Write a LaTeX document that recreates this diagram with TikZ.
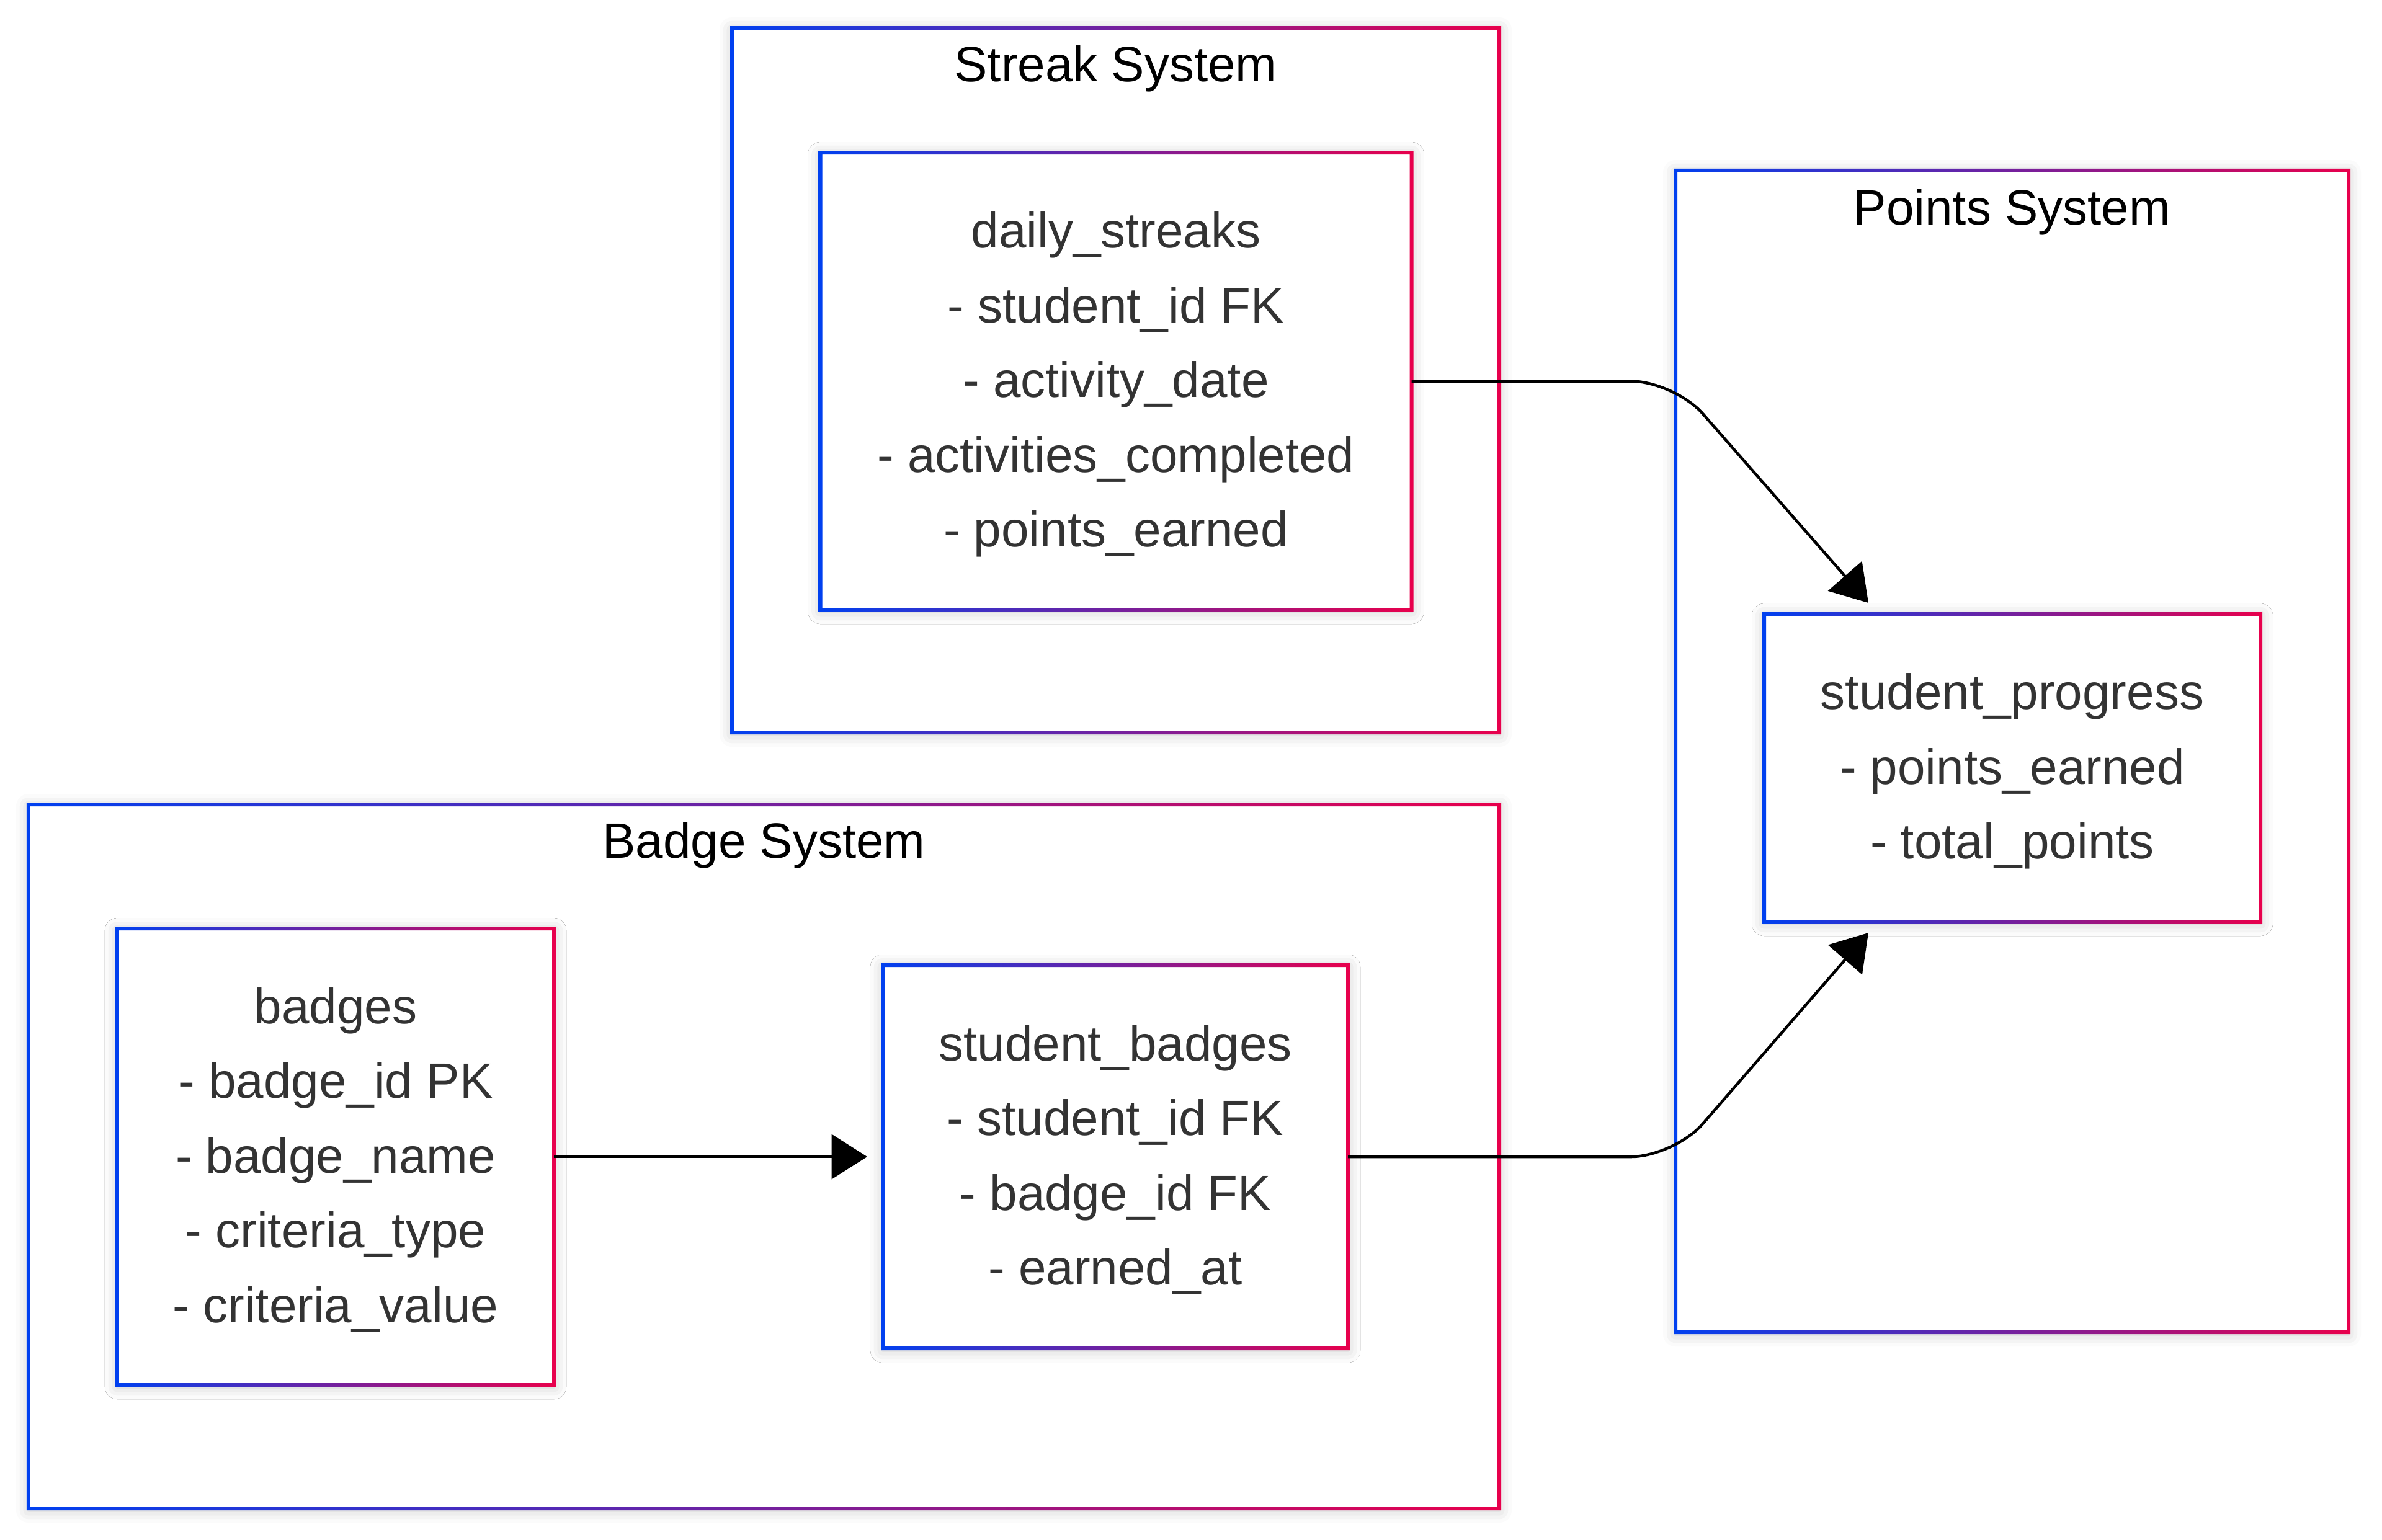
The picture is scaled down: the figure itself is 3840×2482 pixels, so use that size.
\documentclass[tikz,border=0pt]{standalone}
\usepackage{fontspec}
\setmainfont{Liberation Sans}
\usetikzlibrary{arrows.meta}
\usetikzlibrary{shadows.blur}
\definecolor{gradblue}{RGB}{0,64,240}
\definecolor{gradred}{RGB}{232,0,76}
\definecolor{textgray}{HTML}{333333}
\newcommand{\gradframe}[1]{%
  \shade[left color=gradblue,right color=gradred,even odd rule]
    ([shift={(-3,-3)}]#1.north west) rectangle ([shift={(3,3)}]#1.south east)
    ([shift={(3,3)}]#1.north west) rectangle ([shift={(-3,-3)}]#1.south east);}

\begin{document}
\begin{tikzpicture}[x=0.2pt,y=-0.2pt,>={Triangle[length=11.5pt,width=14.4pt]},
  cluster/.style={inner sep=0pt,outer sep=0pt,fill=white,
    blur shadow={shadow xshift=0pt,shadow yshift=-0.6pt,shadow blur radius=4pt,shadow opacity=22}},
  entity/.style={cluster,align=center,text=textgray,text depth=1.2pt,
    font=\fontsize{16pt}{24.1pt}\selectfont},
  clustertitle/.style={anchor=base,font=\fontsize{16pt}{19pt}\selectfont},
  link/.style={black,line width=0.9pt,->,rounded corners=14pt}]
\useasboundingbox (0,0) rectangle (3840,2482);
%% subgraphs
\node (streak) at (1798.5,613) [cluster,minimum width=247.4pt,minimum height=227.2pt] {};
\node (points) at (3243.5,1211.5) [cluster,minimum width=217pt,minimum height=374.6pt] {};
\node (badge) at (1231.5,1864.5) [cluster,minimum width=474.2pt,minimum height=227pt] {};
\gradframe{streak}
\gradframe{points}
\gradframe{badge}
\node (streak_title) at (1798.5,131) [clustertitle] {Streak System};
\node (points_title) at (3243.5,362) [clustertitle] {Points System};
\node (badge_title) at (1231.5,1383) [clustertitle] {Badge System};
%% tables
\node (daily) at (1799,614.5) [entity,minimum width=190.6pt,minimum height=147.4pt]
  {daily\_streaks\\- student\_id FK\\- activity\_date\\- activities\_completed\\- points\_earned};
\node (progress) at (3244,1238) [entity,minimum width=160pt,minimum height=99.2pt]
  {student\_progress\\- points\_earned\\- total\_points};
\node (badges) at (541,1865) [entity,minimum width=140.8pt,minimum height=147.2pt]
  {badges\\- badge\_id PK\\- badge\_name\\- criteria\_type\\- criteria\_value};
\node (sbadges) at (1798,1865) [entity,minimum width=150pt,minimum height=123.6pt]
  {student\_badges\\- student\_id FK\\- badge\_id FK\\- earned\_at};
\gradframe{daily}
\gradframe{progress}
\gradframe{badges}
\gradframe{sbadges}
%% links
\draw [link] (badges.east) -- ([shift={(-25,0)}]sbadges.west);
\draw [link] (daily.east) -- ++(423.5,0) -- ([shift={(168,-18)}]progress.north west);
\draw [link] (sbadges.east) -- ++(526,0) -- ([shift={(168,18)}]progress.south west);
%
\end{tikzpicture}
\end{document}
